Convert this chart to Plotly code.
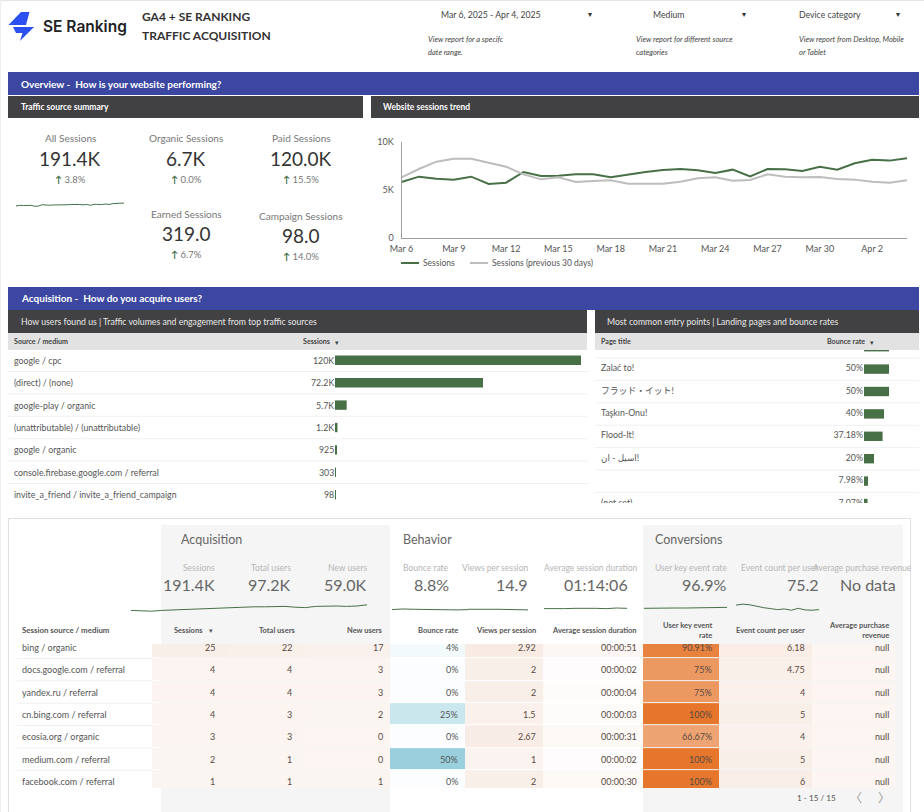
import plotly.graph_objects as go

W, H = 924, 812
FONT = "Lato, 'Noto Sans CJK JP', 'DejaVu Sans', sans-serif"
GREEN = "#477047"
BLUE = "#3b47a1"
DARK = "#414042"

# trend chart
dates = ["2025-03-%02d" % d for d in range(6, 32)] + ["2025-04-%02d" % d for d in range(1, 5)]
sessions = [5830, 6390, 6180, 6080, 6390, 5630, 5760, 6880, 6460, 6490, 6630, 6630, 6320, 6600, 6880,
            7080, 7190, 7050, 6770, 7120, 6420, 7190, 7150, 6980, 7430, 7120, 7780, 8160, 8060, 8300]
sessions_prev = [6320, 7190, 7950, 8260, 8260, 7850, 7430, 6630, 6110, 6320, 5830, 5940, 6010, 5660, 5660,
                 5660, 5870, 6220, 6320, 5970, 6040, 6630, 6390, 6320, 6350, 6150, 6080, 5870, 5760, 6010]
trend_ticks = ["2025-03-06", "2025-03-09", "2025-03-12", "2025-03-15", "2025-03-18", "2025-03-21",
               "2025-03-24", "2025-03-27", "2025-03-30", "2025-04-02"]

# scorecards
card_titles = ["All Sessions", "Organic Sessions", "Paid Sessions", "Earned Sessions", "Campaign Sessions"]
card_values = ["191.4K", "6.7K", "120.0K", "319.0", "98.0"]
card_deltas = ["3.8%", "0.0%", "15.5%", "6.7%", "14.0%"]

# top tables
source_names = ["google / cpc", "(direct) / (none)", "google-play / organic", "(unattributable) / (unattributable)",
                "google / organic", "console.firebase.google.com / referral", "invite_a_friend / invite_a_friend_campaign"]
source_sessions = [120000, 72200, 5700, 1200, 925, 303, 98]
source_labels = ["120K", "72.2K", "5.7K", "1.2K", "925", "303", "98"]
page_titles = ["", "Zalać to!", "フラッド・イット!", "Taşkın-Onu!", "Flood-It!", "اسيل - ان!", "", "(not set)"]
page_bounce = [50, 50, 50, 40, 37.18, 20, 7.98, 7.07]
page_labels = ["", "50%", "50%", "40%", "37.18%", "20%", "7.98%", "7.07%"]

# bottom table
table_sources = ["bing / organic", "docs.google.com / referral", "yandex.ru / referral", "cn.bing.com / referral",
                 "ecosia.org / organic", "medium.com / referral", "facebook.com / referral"]
t_sessions = [25, 4, 4, 4, 3, 2, 1]
t_users = [22, 4, 4, 3, 3, 1, 1]
t_new = [17, 3, 3, 2, 0, 0, 1]
t_bounce = [4, 0, 0, 25, 0, 50, 0]
t_views = [2.92, 2, 2, 1.5, 2.67, 1, 2]
t_duration = [51, 2, 4, 3, 31, 2, 30]
t_duration_labels = ["00:00:51", "00:00:02", "00:00:04", "00:00:03", "00:00:31", "00:00:02", "00:00:30"]
t_key_rate = [90.91, 75, 75, 100, 66.67, 100, 100]
t_events = [6.18, 4.75, 4, 5, 4, 5, 6]
t_revenue_fill = [1, 1, 1, 1, 1, 1, 1]

top_cards = [("Sessions", "191.4K"), ("Total users", "97.2K"), ("New users", "59.0K"), ("Bounce rate", "8.8%"),
             ("Views per session", "14.9"), ("Average session duration", "01:14:06"),
             ("User key event rate", "96.9%"), ("Event count per user", "75.2"),
             ("Average purchase revenue", "No data")]

# little trend lines over the table
spark_acquisition = [5.4, 5.3, 5.2, 5.4, 5.5, 5.7, 5.8, 5.9, 6.0, 6.1, 6.1, 6.2, 6.3, 6.3, 6.4, 6.4, 6.2, 6.1, 6.4,
                     6.5, 6.5, 6.4, 6.5, 6.8]
spark_bounce = [5.0, 5.2, 5.1, 5.0, 5.1, 5.0, 4.9, 5.0]
spark_views = [5.1, 5.0, 5.1, 5.1, 5.0, 5.0, 4.9]
spark_duration = [5.3, 5.2, 5.3, 5.4, 5.5, 5.4, 5.3, 5.5, 5.4]
spark_key_rate = [5.4, 5.5, 5.6, 5.5, 5.5, 5.6, 5.5, 5.6, 5.7]
spark_events = [6.4, 6.7, 6.5, 6.0, 5.6, 5.3, 5.0, 5.2, 4.8, 5.4, 4.9, 4.8, 5.0]

fig = go.Figure()
shapes = []
notes = []
axis_no = [0]


def px(x):
    return x / W


def py(y):
    return 1 - y / H


def rect(x0, y0, x1, y1, fill, line=None):
    shapes.append(dict(type="rect", xref="paper", yref="paper", x0=px(x0), x1=px(x1), y0=py(y0), y1=py(y1),
                       fillcolor=fill, line=dict(width=1 if line else 0, color=line or fill), layer="below"))


def hline(x0, x1, y, color="#f0f0f0", width=1):
    shapes.append(dict(type="line", xref="paper", yref="paper", x0=px(x0), x1=px(x1), y0=py(y), y1=py(y),
                       line=dict(width=width, color=color), layer="below"))


def text(x, y, s, size=9, color="#555555", anchor="left", **kw):
    # annotations carry a 1px border box
    nudge = {"left": -1, "right": 1, "center": 0}[anchor]
    notes.append(dict(xref="paper", yref="paper", x=px(x + nudge), y=py(y), text=s, showarrow=False, xanchor=anchor,
                      yanchor="middle", align=anchor, borderpad=0, font=dict(family=FONT, size=size, color=color,
                      weight=kw.pop("weight", "normal"), style=kw.pop("style", "normal"))))


def add_axes(x0, y0, x1, y1, xrange=None, yrange=None, yshare=None):
    # hidden axis pair placed by pixel box
    axis_no[0] += 1
    n = axis_no[0] + 1
    fig.layout["xaxis%d" % n] = dict(domain=[px(x0), px(x1)], range=xrange, visible=False, fixedrange=True,
                                     anchor="y%d" % (yshare or n))
    if yshare:
        return "x%d" % n, "y%d" % yshare
    fig.layout["yaxis%d" % n] = dict(domain=[py(y1), py(y0)], range=yrange, visible=False, fixedrange=True,
                                     anchor="x%d" % n)
    return "x%d" % n, "y%d" % n


def row_range(y0, y1, first, step):
    # reversed row axis: row i sits at first + i * step pixels
    return [(y1 - first) / step, (y0 - first) / step]


def spark(values, x0, x1, y0, y1, lo, hi):
    xa, ya = add_axes(x0, y0, x1, y1, [0, len(values) - 1], [lo, hi])
    fig.add_trace(go.Scatter(y=values, mode="lines", line=dict(color=GREEN, width=1), xaxis=xa, yaxis=ya,
                             showlegend=False, hoverinfo="skip"))


# page furniture
hline(0, W, 0.5, "#e4e4e4")
shapes.append(dict(type="line", xref="paper", yref="paper", x0=px(0.5), x1=px(0.5), y0=0, y1=1,
                   line=dict(width=1, color="#eeeeee"), layer="below"))
logo_upper = "M %f %f L %f %f L %f %f L %f %f Z" % (px(21), py(12), px(29.5), py(12), px(26), py(25), px(8.5), py(25))
logo_lower = "M %f %f L %f %f L %f %f L %f %f L %f %f Z" % (px(13), py(27), px(34), py(27), px(20), py(41),
                                                           px(22.5), py(33), px(16), py(33))
for p in [logo_upper, logo_lower]:
    shapes.append(dict(type="path", xref="paper", yref="paper", path=p, fillcolor="#2b4ff0", line=dict(width=0),
                       layer="below"))
notes.append(dict(xref="paper", yref="paper", x=px(41), y=py(26), text="SE Ranking", showarrow=False, xanchor="left",
                  yanchor="middle", font=dict(family="Inter", size=15.5, color="#222222", weight=600)))
text(142, 16.5, "GA4 + SE RANKING", 12, "#333333", weight="bold")
text(142, 35, "TRAFFIC ACQUISITION", 12, "#333333", weight="bold")
text(441, 14, "Mar 6, 2025 - Apr 4, 2025", 8.7, "#444444")
text(653, 14, "Medium", 8.7, "#444444")
text(799, 14, "Device category", 8.7, "#444444")
for cx in [590, 744, 898]:
    text(cx, 14, "▾", 8, "#333333", "center")
italics = [(428, "View report for a specifc", "date range."), (636, "View report for different source", "categories"),
           (799, "View report from Desktop, Mobile", "or Tablet")]
for x, a, b in italics:
    text(x, 39, a, 7.5, "#444444", style="italic")
    text(x, 52, b, 7.5, "#444444", style="italic")

# section bars
rect(8, 72, 919, 95, BLUE)
rect(8, 96, 363, 118, DARK)
rect(371, 96, 919, 118, DARK)
text(21, 84, "Overview -  How is your website performing?", 10, "white", weight="bold")
text(21, 107, "Traffic source summary", 8.5, "white", weight="bold")
text(383, 107, "Website sessions trend", 8.5, "white", weight="bold")
rect(8, 287, 919, 310, BLUE)
rect(8, 310, 587, 333, DARK)
rect(595, 310, 919, 333, DARK)
rect(8, 333, 587, 350, "#e2e2e2")
rect(595, 333, 919, 350, "#e2e2e2")
text(21, 298, "Acquisition -  How do you acquire users?", 10, "white", weight="bold")
text(21, 321.5, "How users found us | Traffic volumes and engagement from top traffic sources", 8.7, "#e8e8e8")
text(607, 321.5, "Most common entry points | Landing pages and bounce rates", 8.7, "#e8e8e8")
text(14, 341.5, "Source / medium", 7.1, "#444444", weight="bold")
text(303, 341.5, "Sessions", 7.1, "#444444", weight="bold")
text(337, 341.5, "▾", 7, "#444444", "center")
text(601, 341.5, "Page title", 7.1, "#444444", weight="bold")
text(827, 341.5, "Bounce rate", 7.1, "#444444", weight="bold")
text(872, 341.5, "▾", 7, "#444444", "center")

# scorecards
card_pos = [(70, 138, 158, 179), (186, 138, 158, 179), (301, 138, 158, 179), (186, 214, 234, 254), (301, 216, 236, 256)]
for (cx, y1, y2, y3), t, v, d in zip(card_pos, card_titles, card_values, card_deltas):
    text(cx, y1, t, 10, "#777777", "center")
    text(cx, y2, v, 19, "#333333", "center")
    text(cx, y3, '<span style="color:%s"><b>↑</b></span> %s' % (GREEN, d), 9.5, "#777777", "center")

# small trend under All Sessions
spark(sessions, 16, 124, 190, 220, -5700, 19000)

# trend chart
fig.add_trace(go.Scatter(x=dates, y=sessions, mode="lines", name="Sessions", line=dict(color=GREEN, width=2),
                         showlegend=False))
fig.add_trace(go.Scatter(x=dates, y=sessions_prev, mode="lines", name="Sessions (previous 30 days)",
                         line=dict(color="#bdbdbd", width=2), showlegend=False))
tick_font = dict(family=FONT, size=9, color="#555555")
fig.update_layout(
    xaxis=dict(domain=[px(401.5), px(907)], range=[dates[0], dates[-1]], type="date", tickvals=trend_ticks,
               tickformat="%b %-d", showgrid=False, zeroline=False, showline=True, linecolor="#9e9e9e", ticks="",
               tickfont=tick_font, fixedrange=True, anchor="y", ticklabelstandoff=2),
    yaxis=dict(domain=[py(238), py(142)], range=[0, 10000], tickvals=[0, 5000, 10000], ticktext=["0", "5K", "10K"],
               showgrid=False, zeroline=False, showline=True, linecolor="#9e9e9e", ticks="", tickfont=tick_font,
               fixedrange=True, anchor="x", ticklabelstandoff=5),
)
# legend keys are shorter than plotly's own minimum, so drawn by hand
hline(401, 419, 263, GREEN, 2)
text(423, 263, "Sessions", 8.5)
hline(470, 488, 263, "#bdbdbd", 2)
text(492, 263, "Sessions (previous 30 days)", 8.5)

# source table
src_range = row_range(350, 506, 360.3, 22.4)
xa, ya_src = add_axes(335, 350, 581, 506, [0, 120000], src_range)
fig.add_trace(go.Bar(x=source_sessions, y=list(range(7)), orientation="h", width=0.42, marker=dict(color=GREEN, line_width=0),
                     xaxis=xa, yaxis=ya_src, showlegend=False, hoverinfo="x"))
for i, (name, lab) in enumerate(zip(source_names, source_labels)):
    y = 360.3 + 22.4 * i
    text(14, y, name, 8.8, "#555555")
    text(333.5, y, lab, 8.8, "#555555", "right")
    if i < 6:
        hline(8, 587, y + 11.2)

# landing page table, clipped at the bottom like the card in the report
page_rows = list(range(-1, 7))
page_range = row_range(350, 503, 369.1, 22.4)
xa, ya_page = add_axes(864, 350, 919, 503, [0, 110], page_range)
fig.add_trace(go.Bar(x=page_bounce, y=page_rows, orientation="h", width=0.42, marker=dict(color=GREEN, line_width=0),
                     xaxis=xa, yaxis=ya_page, showlegend=False, hoverinfo="x"))
xa, _ = add_axes(595, 350, 919, 503, [595, 919], yshare=int(ya_page[1:]))
text_font = dict(family=FONT, size=8.8, color="#555555")
fig.add_trace(go.Scatter(x=[601] * 8, y=page_rows, text=page_titles, mode="text", textposition="middle right",
                         textfont=text_font, cliponaxis=True, xaxis=xa, yaxis=ya_page, showlegend=False, hoverinfo="skip"))
fig.add_trace(go.Scatter(x=[863] * 8, y=page_rows, text=page_labels, mode="text", textposition="middle left",
                         textfont=text_font, cliponaxis=True, xaxis=xa, yaxis=ya_page, showlegend=False, hoverinfo="skip"))
for i in range(7):
    hline(595, 919, 358 + 22.4 * i)

# bottom card
rect(8.5, 518.5, 910.5, 830, "white", "#e0e0e0")
rect(161, 525, 390, 812, "#f5f5f5")
rect(643, 525, 903, 812, "#f5f5f5")
text(181, 539, "Acquisition", 12.5, "#666666")
text(403, 539, "Behavior", 12.5, "#666666")
text(655, 539, "Conversions", 12.5, "#666666")
card_right = [215, 291, 367, 449, 528, 637, 727, 819, 912]
value_right = [215, 291, 367, 449, 528, 627.5, 727, 819, 896]
for rx, vx, (lab, val) in zip(card_right, value_right, top_cards):
    text(rx, 568, lab, 8.5, "#b5b5b5", "right")
    text(vx, 584.5, val, 16, "#666666", "right")

spark(spark_acquisition, 131, 367, 600, 616, 4, 8)
spark(spark_bounce, 392, 468, 600, 616, 3, 8)
spark(spark_views, 468, 528, 600, 616, 3, 8)
spark(spark_duration, 544, 627, 600, 616, 3, 8)
spark(spark_key_rate, 644, 727, 600, 616, 3, 8)
spark(spark_events, 736, 819, 600, 616, 3, 8)

# cells, one heatmap per column so each metric keeps its own colour scale
edges = [152, 228, 306, 390, 465, 543, 643, 719, 812, 895]
tint = "#f8ebe4"
columns = [
    ("Sessions ", t_sessions, t_sessions, -40, 40, tint),
    ("Total users", t_users, t_users, -40, 40, tint),
    ("New users", t_new, t_new, -40, 40, tint),
    ("Bounce rate", t_bounce, ["%d%%" % v for v in t_bounce], -2, 50, "#9ad0de"),
    ("Views per session", t_views, t_views, -2, 3, tint),
    ("Average session duration", t_duration, t_duration_labels, -20, 150, tint),
    ("User key event<br>rate", t_key_rate, ["%g%%" % v for v in t_key_rate], 0, 100, "#e5762c"),
    ("Event count per user", t_events, t_events, -3, 7, tint),
    ("Average purchase<br>revenue", t_revenue_fill, ["null"] * 7, 0, 2, tint),
]
xa, ya_cells = add_axes(edges[0], 644, edges[-1], 788, [edges[0], edges[-1]], row_range(644, 788, 647.3, 22.35))
head_right = [214, 295, 383, 458, 536, 637, 712, 805, 889]
cell_right = [215, 292, 383, 458, 536, 637, 712, 805, 889]
for c, (head, z, labels, lo, hi, color) in enumerate(columns):
    fig.add_trace(go.Heatmap(x=[edges[c], edges[c + 1]], y=list(range(7)), z=[[v] for v in z], zmin=lo, zmax=hi,
                             colorscale=[[0, "#ffffff"], [1, color]], showscale=False, ygap=1, xaxis=xa, yaxis=ya_cells,
                             hoverinfo="skip"))
    if c == 0:
        text(203, 630, "Sessions", 7.5, "#555555", "right", weight="bold")
        text(211, 630, "▾", 7, "#555555", "center")
    else:
        text(head_right[c], 630, head, 7.5, "#555555", "right", weight="bold")
    for i, lab in enumerate(labels):
        text(cell_right[c], 647.3 + 22.35 * i, str(lab), 9, "#5a4a42" if c != 3 else "#555555", "right")
text(22, 630, "Session source / medium", 7.9, "#555555", weight="bold")
for i, name in enumerate(table_sources):
    text(22, 647.3 + 22.35 * i, name, 9, "#555555")
    if i < 6:
        hline(17, 152, 658.5 + 22.35 * i)

text(816, 798, "1 - 15 / 15", 8.2, "#555555", "center")
text(856, 798, "〈", 12, "#999999", "center")
text(884, 798, "〉", 12, "#999999", "center")

fig.update_layout(width=W, height=H, margin=dict(l=0, r=0, t=0, b=0, autoexpand=False), paper_bgcolor="white",
                  plot_bgcolor="rgba(0,0,0,0)", shapes=shapes, annotations=notes, font=dict(family=FONT),
                  hovermode="closest")
fig.write_html("out.html", config=dict(displayModeBar=False), post_script="document.body.style.margin='0';")
